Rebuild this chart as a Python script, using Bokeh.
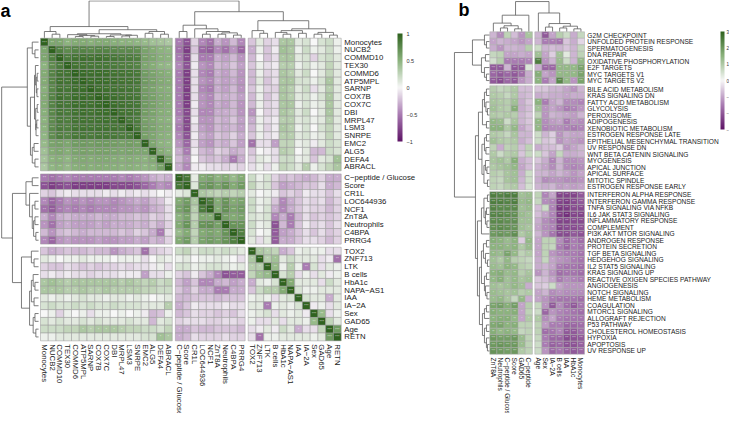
import math
from bokeh.plotting import figure
from bokeh.models import Range1d, ColorBar, LinearColorMapper, FixedTicker
from bokeh.layouts import row
from bokeh.embed import file_html
from bokeh.resources import INLINE
from bokeh.core.properties import value

# ---------------- DATA: panel a (correlation matrix, lower triangle) ----------------
a_labels = ["Monocytes", "NUCB2", "COMMD10", "TEX30", "COMMD6", "ATP5MPL", "SARNP", "COX7B",
            "COX7C", "DBI", "MRPL47", "LSM3", "SNRPE", "EMC2", "ALG5", "DEFA4", "ABRACL",
            "C\u2212peptide / Glucose", "Score", "CR1L", "LOC644936", "NCF1", "ZnT8A",
            "Neutrophils", "C4BPA", "PRRG4",
            "TOX2", "ZNF713", "LTK", "B cells", "HbA1c", "NAPA\u2212AS1", "IAA", "IA\u22122A",
            "Sex", "GAD65", "Age", "RETN"]
a_blocks = [17, 9, 12]

corr_lower = [
    [1],
    [.58, 1],
    [.58, .82, 1],
    [.50, .75, .85, 1],
    [.55, .80, .90, .90, 1],
    [.55, .80, .92, .90, .95, 1],
    [.52, .78, .90, .88, .93, .94, 1],
    [.55, .80, .92, .88, .94, .95, .93, 1],
    [.55, .80, .90, .88, .93, .94, .92, .95, 1],
    [.52, .78, .88, .86, .91, .93, .91, .93, .94, 1],
    [.50, .76, .86, .84, .90, .91, .90, .91, .92, .91, 1],
    [.50, .76, .85, .83, .89, .90, .89, .90, .90, .90, .88, 1],
    [.48, .74, .83, .80, .87, .88, .86, .88, .88, .87, .85, .86, 1],
    [.45, .60, .62, .58, .65, .66, .64, .66, .66, .64, .62, .64, .62, 1],
    [.40, .55, .58, .54, .60, .62, .60, .62, .62, .60, .58, .60, .58, .58, 1],
    [.38, .50, .52, .48, .55, .56, .54, .56, .56, .54, .52, .54, .52, .50, .55, 1],
    [.35, .48, .50, .46, .52, .54, .52, .54, .53, .52, .50, .52, .50, .48, .50, .62, 1],
    [-.50, -.55, -.50, -.45, -.50, -.50, -.50, -.50, -.50, -.50, -.45, -.50, -.45, -.40, -.30, -.25, -.30,
     1],
    [-.70, -.80, -.75, -.70, -.80, -.80, -.80, -.80, -.80, -.75, -.75, -.75, -.70, -.60, -.50, -.40, -.45,
     .88, 1],
    [-.15, -.20, -.10, -.05, -.10, -.10, -.10, -.10, -.05, -.10, -.05, -.10, -.05, -.10, -.05, .00, -.05,
     .08, .12, 1],
    [-.45, -.60, -.50, -.40, -.45, -.40, -.45, -.40, -.40, -.45, -.40, -.35, -.30, -.35, -.25, -.20, -.05,
     .55, .65, .35, 1],
    [-.55, -.65, -.50, -.45, -.50, -.45, -.50, -.45, -.45, -.45, -.40, -.40, -.35, -.40, -.30, -.25, -.10,
     .60, .70, .30, .85, 1],
    [-.30, -.45, -.30, -.25, -.30, -.30, -.30, -.25, -.30, -.30, -.25, -.25, -.20, -.25, -.15, -.20, -.10,
     .50, .60, .25, .55, .55, 1],
    [-.40, -.55, -.35, -.30, -.35, -.35, -.35, -.30, -.35, -.30, -.30, -.30, -.25, -.30, -.20, -.30, -.15,
     .55, .70, .30, .70, .72, .62, 1],
    [-.25, -.40, -.25, -.20, -.25, -.30, -.25, -.25, -.25, -.25, -.20, -.25, -.15, -.20, -.30, -.50, -.10,
     .45, .55, .25, .55, .60, .55, .70, 1],
    [-.45, -.60, -.40, -.35, -.40, -.40, -.40, -.35, -.40, -.40, -.35, -.35, -.30, -.35, -.25, -.30, -.15,
     .55, .65, .30, .60, .65, .60, .70, .82, 1],
    [-.20, -.30, -.25, -.20, -.25, -.25, -.20, -.25, -.25, -.40, -.30, -.25, -.20, -.55, -.20, -.15, -.10,
     .20, .25, .10, .20, .20, .15, .20, .15, .10,
     1],
    [.10, .05, .00, .05, .05, .10, .05, .05, .05, .00, .05, .05, .05, -.10, .00, .10, .05,
     .05, .10, .00, .05, .05, .10, .05, .00, -.10,
     .35, 1],
    [-.15, -.20, -.20, -.10, -.15, -.20, -.15, -.20, -.15, -.15, -.10, -.15, -.10, -.10, -.05, .05, -.10,
     .15, .15, .05, .10, .15, .15, .10, .05, .10,
     .30, .30, 1],
    [-.10, -.05, -.10, -.05, -.10, -.10, -.15, -.10, -.10, -.10, -.05, -.05, -.05, -.35, -.10, -.10, .05,
     -.15, -.20, -.05, -.20, -.30, -.45, -.70, -.65, -.65,
     .25, .40, .45, 1],
    [.35, .40, .35, .30, .35, .35, .35, .35, .35, .35, .30, .35, .30, .25, .30, .20, .25,
     -.25, -.35, -.20, -.45, -.45, -.30, -.25, -.35, -.30,
     -.30, .10, .05, .15, 1],
    [.35, .35, .35, .30, .30, .35, .30, .30, .35, .30, .30, .30, .30, .25, .25, .20, .20,
     -.20, -.30, -.15, -.30, -.30, -.50, -.50, -.30, -.30,
     -.20, .20, .30, .30, .55, 1],
    [.10, .05, .10, .05, .10, .15, .10, .10, .05, .10, .10, .05, .10, .05, .00, .05, .10,
     -.25, -.25, -.20, -.20, -.20, -.25, -.20, -.20, -.20,
     .05, .10, .05, -.10, .10, .15, 1],
    [.15, .20, .15, .15, .20, .15, .20, .15, .15, .20, .15, .15, .15, .10, .10, .10, .30,
     -.30, -.20, -.05, -.10, -.10, -.10, -.05, -.10, -.10,
     .10, .10, -.50, .05, .10, .05, .15, 1],
    [.00, .05, -.15, .05, .00, .05, -.10, .05, .05, .00, .05, .00, .05, -.05, -.25, -.20, .05,
     -.25, -.20, -.10, -.15, -.15, -.20, -.15, -.20, -.10,
     .05, .10, .15, -.10, .10, .05, .10, -.05, 1],
    [.15, .10, .15, .10, .10, .15, .10, .15, .10, .10, .10, .15, .10, .10, -.25, .10, .15,
     -.15, -.10, -.10, -.10, -.15, -.15, -.10, -.10, -.15,
     .05, -.10, -.10, .10, -.10, .10, .10, .05, .45, 1],
    [.20, .20, .20, .25, .25, .35, .30, .35, .35, .35, .30, .25, .25, .20, .20, .15, .25,
     -.30, -.30, -.20, -.25, -.25, -.20, -.20, -.20, -.25,
     -.10, -.05, .10, -.05, .20, .10, -.30, -.10, -.10, .25, 1],
    [.05, .05, .10, .10, .10, .10, .10, .10, .10, .10, .10, .10, .10, .15, .15, .40, .35,
     -.30, -.25, -.10, -.15, -.15, -.15, -.10, -.15, -.15,
     -.10, -.55, .05, .05, .10, .10, .10, .10, .05, .10, .65, 1],
]

# clustering tree of panel a (leaf = index, node = [left, right, merge height])
a_tree = [
    [[0, [1, 2, 4], 7],
     [[[3, [[4, 5, 1.5], [6, 7, 1.8], 2.5], 3.5], [[8, 9, 1.5], [[10, 11, 2], 12, 2.8], 3.2], 4.5],
      [[13, 14, 5], [15, 16, 4], 7], 9], 12.5],
    [[[17, 18, 7], [19, [[20, 21, 4], [[22, 23, 4], [24, 25, 3], 5.5], 7], 10], 14],
     [[26, [27, 28, 5], 8],
      [[[29, [30, 31, 4], 6], [32, 33, 5], 8], [[34, 35, 4], [36, 37, 3], 6], 10], 19], 29],
    41]

# ---------------- DATA: panel b (hallmark pathways x traits) ----------------
b_rows = ["G2M CHECKPOINT", "UNFOLDED PROTEIN RESPONSE", "SPERMATOGENESIS", "DNA REPAIR",
          "OXIDATIVE PHOSPHORYLATION", "E2F TARGETS", "MYC TARGETS V1", "MYC TARGETS V2",
          "BILE ACID METABOLISM", "KRAS SIGNALING DN", "FATTY ACID METABOLISM", "GLYCOLYSIS",
          "PEROXISOME", "ADIPOGENESIS", "XENOBIOTIC METABOLISM", "ESTROGEN RESPONSE LATE",
          "EPITHELIAL MESENCHYMAL TRANSITION", "UV RESPONSE DN", "WNT BETA CATENIN SIGNALING",
          "MYOGENESIS", "APICAL JUNCTION", "APICAL SURFACE", "MITOTIC SPINDLE",
          "ESTROGEN RESPONSE EARLY",
          "INTERFERON ALPHA RESPONSE", "INTERFERON GAMMA RESPONSE", "TNFA SIGNALING VIA NFKB",
          "IL6 JAK STAT3 SIGNALING", "INFLAMMATORY RESPONSE", "COMPLEMENT", "PI3K AKT MTOR SIGNALING",
          "ANDROGEN RESPONSE", "PROTEIN SECRETION", "TGF BETA SIGNALING", "HEDGEHOG SIGNALING",
          "IL2 STAT5 SIGNALING", "KRAS SIGNALING UP", "REACTIVE OXIGEN SPECIES PATHWAY",
          "ANGIOGENESIS", "NOTCH SIGNALING", "HEME METABOLISM", "COAGULATION", "MTORC1 SIGNALING",
          "ALLOGRAFT REJECTION", "P53 PATHWAY", "CHOLESTEROL HOMEOSTASIS", "HYPOXIA", "APOPTOSIS",
          "UV RESPONSE UP"]
b_row_blocks = [8, 16, 25]
b_cols = ["ZnT8A", "Neutrophils", "C\u2212peptide / Glucose", "Score", "GAD65", "C\u2212peptide",
          "Age", "Sex", "IA\u22122A", "B cells", "IAA", "HbA1c", "Monocytes"]
b_col_blocks = [6, 7]

b_values = [
    [-0.8, -1.3, 0.8, -0.7, -1.2, 1.1, -0.8, -2.0, -1.0, 0.9, 0.6, -0.9, 0.7],
    [-1.0, -0.8, -0.9, -1.0, -1.2, -1.0, -0.8, -1.5, -1.5, -1.6, -0.6, -0.9, -0.4],
    [-0.9, -1.2, -0.8, -0.8, -0.9, 0.9, 0.6, -0.8, -0.7, -0.8, -0.6, -0.8, 0.7],
    [0.7, 0.8, -1.0, -1.0, -0.9, -1.0, 1.2, -1.0, -0.5, 1.2, 0.3, -0.8, 0.8],
    [0.5, 0.9, -1.5, -1.5, -1.5, -1.4, 2.5, -1.2, -0.8, 1.3, 0.6, -0.8, 1.4],
    [-2.0, -2.0, -0.8, -2.0, -2.0, 0.4, -0.9, -1.8, -1.8, 1.4, 1.4, 1.4, 1.8],
    [-1.8, -2.0, -1.8, -2.0, -1.7, -0.9, 1.6, -1.0, -1.2, 1.4, 1.4, 1.4, 1.8],
    [-2.0, -2.2, -1.8, -2.0, -1.2, -0.9, 1.5, -1.5, -1.0, 2.3, 1.4, -1.2, 1.8],
    [0.9, 0.7, 0.8, 1.0, -0.7, -0.7, -0.6, -0.6, -0.8, -0.8, -1.0, -1.2, -0.8],
    [1.0, 0.9, 0.7, 1.0, -0.8, -0.7, -0.9, -0.8, -0.9, -0.9, -1.0, -0.9, -0.9],
    [1.1, 1.0, 0.9, 1.2, -0.9, -0.6, 1.5, -1.5, -1.0, -0.8, -1.3, -1.3, -1.4],
    [1.2, 1.0, 0.9, 1.6, -0.9, -0.7, 1.2, -1.2, -1.0, -1.2, -1.5, -1.4, -1.2],
    [1.0, 0.9, 1.0, 0.9, -0.8, -0.6, 0.8, -1.2, -0.8, -0.9, -1.0, -1.1, -0.8],
    [1.4, 1.3, 0.6, 1.1, -0.8, -0.6, 1.4, -1.3, -1.1, -1.0, -1.5, -1.2, -1.3],
    [1.5, 1.5, 1.0, 1.4, -1.0, -0.7, 1.4, -1.4, -1.3, -1.3, -1.4, -1.5, -1.4],
    [1.0, 0.9, 0.7, 1.1, -0.8, -0.8, 0.6, -0.8, -0.5, -1.2, -0.9, -1.0, -1.0],
    [1.2, 1.0, 0.9, 1.0, -0.9, -0.7, 0.6, -0.6, -0.5, -1.2, -1.0, -1.1, -1.2],
    [0.8, -0.9, 0.8, 0.9, -0.7, 0.8, -0.9, -0.7, -0.7, -0.5, -1.2, -1.0, -0.8],
    [1.0, 0.6, 0.9, 1.0, -0.6, 0.7, 0.6, -0.6, -1.0, 0.7, -0.9, -0.9, -0.8],
    [1.1, 1.2, 1.0, 1.6, -0.9, -0.7, -0.6, -0.9, -1.4, -0.8, -1.3, -1.3, -1.2],
    [1.0, 1.1, 1.2, 1.4, -1.0, -0.7, -0.8, -1.0, -1.3, -0.8, -1.3, -1.4, -1.3],
    [0.9, 0.8, 1.1, 1.2, -0.9, 0.6, -0.8, -0.8, -1.0, -0.8, -1.0, -1.2, -1.0],
    [0.8, 0.7, 1.1, 1.2, -0.8, 0.6, -0.9, -1.3, -1.2, -1.2, -1.3, -1.3, -1.2],
    [0.8, 0.7, 0.9, 1.0, -0.7, 0.5, -0.8, -0.9, -0.8, -1.1, -1.0, -1.1, -1.0],
    [2.5, 2.4, 2.5, 2.5, 1.2, 1.3, 0.8, -1.4, -1.0, -2.3, -2.3, -2.3, -2.0],
    [2.5, 2.5, 2.4, 2.5, 1.3, 1.4, 0.7, -1.3, -1.4, -2.3, -2.4, -2.2, -2.0],
    [2.4, 2.3, 2.3, 2.3, 1.2, 1.3, -0.7, 0.6, -1.4, -2.5, -2.4, -2.2, -2.2],
    [2.4, 2.4, 2.3, 2.2, 1.3, 1.2, -0.7, -1.0, -1.4, -2.4, -2.6, -2.3, -2.3],
    [2.3, 2.3, 2.2, 2.2, 1.2, 1.2, -0.9, -1.3, -1.5, -2.3, -2.3, -2.2, -2.2],
    [2.2, 2.3, 2.2, 2.1, 1.2, 1.1, -1.0, -1.3, -1.4, -2.3, -2.2, -2.2, -2.1],
    [2.0, 2.1, 2.0, 2.2, 1.0, 1.2, -0.8, -1.2, -1.6, -2.2, -2.2, -2.0, -2.1],
    [1.6, 1.5, 1.3, 1.5, -0.5, 1.4, -1.0, 0.8, 0.8, -1.3, -1.8, -1.5, -1.7],
    [1.5, 1.5, 1.4, 1.5, 1.0, 1.3, -1.0, 0.8, 0.7, -1.5, -1.8, -1.5, -1.6],
    [1.4, 1.3, 1.8, 1.4, 0.8, 1.0, -1.0, 0.8, -1.2, -1.4, -1.5, -1.5, -1.6],
    [1.2, 1.0, 1.4, 0.9, 0.8, 0.7, -0.9, 0.7, -1.0, -1.2, -1.3, -1.5, -1.6],
    [1.3, 1.2, 1.5, 1.4, 0.9, 0.8, -0.9, -0.8, -1.0, -1.5, -1.6, -1.6, -1.7],
    [1.5, 1.6, 1.3, 1.4, 0.9, 1.1, -1.2, -0.8, -1.2, -1.7, -1.6, -1.6, -1.7],
    [1.4, 1.6, 1.2, 1.4, 1.1, 1.2, -0.6, -0.7, -1.0, -1.5, -1.3, -1.4, -1.5],
    [1.2, 1.1, 1.2, 1.4, 1.2, -0.9, -0.6, -0.5, 0.6, -1.0, -1.2, -1.2, -1.2],
    [1.3, 1.2, 1.1, 1.2, 0.9, 1.0, -1.0, -0.8, -1.3, -1.2, -1.3, -1.3, -1.3],
    [1.3, 1.4, 1.1, 0.7, 1.4, -0.9, -1.0, -1.2, -1.5, -1.6, -1.6, -1.6, -1.7],
    [1.8, 1.9, 1.6, 1.9, -1.0, 0.9, 0.7, -1.2, -2.0, -1.3, -1.7, -2.0, -1.6],
    [1.6, 1.5, 1.5, 1.6, -1.0, 0.8, 0.6, -1.8, -1.2, -1.4, -1.5, -1.6, -1.7],
    [1.5, 1.6, 1.6, 1.4, -1.0, 1.0, 1.0, -1.3, -1.0, -1.5, -1.6, -1.6, -1.6],
    [1.7, 1.8, 1.5, 1.6, 0.8, 0.8, 0.8, -1.1, -1.5, -1.5, -1.8, -1.8, -1.7],
    [1.6, 1.4, 1.5, 1.4, 0.7, 0.8, 0.8, -1.7, -1.6, -1.4, -2.0, -2.0, -1.7],
    [2.0, 1.9, 1.9, 2.0, 1.3, 0.8, 0.7, -1.5, -1.8, -1.8, -2.2, -2.1, -2.0],
    [2.0, 2.1, 2.0, 2.0, 1.3, 0.8, 0.6, -1.5, -1.9, -1.8, -2.1, -2.1, -1.9],
    [2.1, 2.0, 1.9, 2.0, 1.0, 0.8, 0.6, -1.2, -1.8, -1.6, -1.9, -2.0, -1.8],
]

b_col_tree = [[[0, [[1, 2, 4], [3, 4, 3], 6.5], 9.5], 5, 18.5],
              [6, [[7, 8, 5], [[9, 10, 4], [11, 12, 3], 6], 9], 21], 34]
b_row_tree = [
    [[0, [1, 2, 3], 5], [[3, 4, 4], [5, [6, 7, 3], 5], 8], 17],
    [[[[[8, 9, 3], [10, [11, 12, 2], 3.5], 5], [13, 14, 3], 7],
      [[[15, 16, 3], [17, 18, 3.5], 5], [[19, [20, 21, 2.5], 4], [22, 23, 2], 5.5], 7.5], 11],
     [[[[24, 25, 2], [[26, 27, 3], [28, 29, 2.5], 4], 5.5], 30, 8],
      [[[[31, 32, 3], [33, [34, 35, 2], 4], 6], [[36, 37, 3], [38, [39, 40, 2.5], 4], 5], 8],
       [[[41, 42, 3], 43, 5], [[44, 45, 3], [46, [47, 48, 2], 3], 5], 7], 10], 12], 14],
    35]

# ---------------- helpers ----------------
PURPLE_GREEN = ["#5e1466", "#a97bb2", "#f7f7f7", "#8cb37e", "#2f621f"]


def ramp(stops, colors):
    rgb = [tuple(int(c[i:i + 2], 16) for i in (1, 3, 5)) for c in colors]

    def f(v):
        v = max(stops[0], min(stops[-1], v))
        for k in range(len(stops) - 1):
            if v <= stops[k + 1]:
                t = (v - stops[k]) / (stops[k + 1] - stops[k])
                c = [round(rgb[k][i] + t * (rgb[k + 1][i] - rgb[k][i])) for i in range(3)]
                return "#%02x%02x%02x" % tuple(c)
        return colors[-1]
    return f


def block_pos(sizes, gap):
    out = []
    for b, n in enumerate(sizes):
        start = sum(sizes[:b]) + b * gap
        out += [start + k + 0.5 for k in range(n)]
    return out


def dendro(tree, leaf_pos):
    segs = []

    def rec(node):
        if isinstance(node, int):
            return leaf_pos[node], 0.0
        l, r, h = node
        pl, hl = rec(l)
        pr, hr = rec(r)
        segs.append((pl, h, pr, h))
        segs.append((pl, hl, pl, h))
        segs.append((pr, hr, pr, h))
        return (pl + pr) / 2, h
    rec(tree)
    return segs


def stars_a(v):
    a = abs(v)
    return "***" if a >= 0.6 else "**" if a >= 0.45 else "*" if a >= 0.3 else ""


def stars_b(v):
    a = abs(v)
    return "***" if a >= 1.8 else "**" if a >= 1.4 else "*" if a >= 1.0 else ""


FONT = value("Liberation Sans")
LINE = "#5c5c5c"

# ================= panel a =================
W_A, W_B, H = 432, 297, 413
PXA_X, PXA_Y = 7.75, 7.8
OX_A, OY_A = 48 - 8, 45.7 - 8          # heatmap origin inside the figure (px)
GAP_A = 0.4
n = len(a_labels)
M = [[0.0] * n for _ in range(n)]
for i, r in enumerate(corr_lower):
    for j, v in enumerate(r):
        M[i][j] = v
        M[j][i] = v

pa = figure(width=W_A, height=H, output_backend="svg", toolbar_location=None,
            x_axis_type=None, y_axis_type=None, min_border=0,
            x_range=Range1d(-OX_A / PXA_X, (W_A - OX_A) / PXA_X),
            y_range=Range1d((H - OY_A) / PXA_Y, -OY_A / PXA_Y))
pa.outline_line_color = None
pa.grid.visible = False

cmap_a = ramp([-1, -0.5, 0, 0.5, 1], PURPLE_GREEN)
pos_a = block_pos(a_blocks, GAP_A)
xs, ys, cols, st = [], [], [], []
for i in range(n):
    for j in range(n):
        xs.append(pos_a[j]); ys.append(pos_a[i]); cols.append(cmap_a(M[i][j]))
        st.append(stars_a(M[i][j]))
pa.rect(x=xs, y=ys, width=1, height=1, fill_color=cols, line_color="#969696", line_width=0.5)
pa.text(x=xs, y=ys, text=st, text_font=FONT, text_font_size="4px", text_color="white",
        text_alpha=0.7, text_align="center", text_baseline="middle")

end_a = pos_a[-1] + 0.5
pa.text(x=[end_a + 0.4] * n, y=pos_a, text=a_labels, text_font=FONT, text_font_size="7.8px",
        text_color="#1a1a1a", text_align="left", text_baseline="middle")
pa.text(x=pos_a, y=[end_a + 0.45] * n, text=a_labels, text_font=FONT, text_font_size="7.8px",
        text_color="#1a1a1a", text_align="left", text_baseline="middle", angle=-math.pi / 2)

SC_A = 0.9
segs = dendro(a_tree, pos_a)
pa.segment(x0=[s[0] for s in segs], y0=[-s[1] * SC_A / PXA_Y - 0.05 for s in segs],
           x1=[s[2] for s in segs], y1=[-s[3] * SC_A / PXA_Y - 0.05 for s in segs],
           line_color=LINE, line_width=0.8)
pa.segment(x0=[-s[1] * SC_A / PXA_X - 0.25 for s in segs], y0=[s[0] for s in segs],
           x1=[-s[3] * SC_A / PXA_X - 0.25 for s in segs], y1=[s[2] for s in segs],
           line_color=LINE, line_width=0.8)

pa.text(x=[-OX_A / PXA_X], y=[(18 - 45.7) / PXA_Y], text=["a"], text_font=FONT,
        text_font_size="18px", text_font_style="bold", text_color="black",
        text_align="left", text_baseline="alphabetic")

pal_a = [cmap_a(-1 + 2 * k / 255) for k in range(256)]
cb_a = ColorBar(color_mapper=LinearColorMapper(palette=pal_a, low=-1, high=1),
                location=(397, 272), orientation="vertical", width=5, height=108,
                ticker=FixedTicker(ticks=[-1, -0.5, 0, 0.5, 1]),
                major_label_overrides={-1: "\u22121", -0.5: "\u22120.5", 0: "0", 0.5: "0.5", 1: "1"},
                major_label_text_font_size="5.5px", major_label_text_color="#333333",
                major_tick_line_color=None, minor_tick_line_color=None, bar_line_color=None,
                padding=0, label_standoff=4, background_fill_alpha=0, border_line_color=None)
pa.add_layout(cb_a)

# ================= panel b =================
PXB_X, PXB_Y = 7.1, 6.5
OX_B, OY_B = 497.3 - 440, 39.3 - 8
GAP_BX, GAP_BY = 0.34, 0.3
pb = figure(width=W_B, height=H, output_backend="svg", toolbar_location=None,
            x_axis_type=None, y_axis_type=None, min_border=0,
            x_range=Range1d(-OX_B / PXB_X, (W_B - OX_B) / PXB_X),
            y_range=Range1d((H - OY_B) / PXB_Y, -OY_B / PXB_Y))
pb.outline_line_color = None
pb.grid.visible = False

cmap_b = ramp([-3, -1.5, 0, 1.5, 3], PURPLE_GREEN)
px_b = block_pos(b_col_blocks, GAP_BX)
py_b = block_pos(b_row_blocks, GAP_BY)
xs, ys, cols, st = [], [], [], []
for i, r in enumerate(b_values):
    for j, v in enumerate(r):
        xs.append(px_b[j]); ys.append(py_b[i]); cols.append(cmap_b(v)); st.append(stars_b(v))
pb.rect(x=xs, y=ys, width=1, height=1, fill_color=cols, line_color="#a8a8a8", line_width=0.5)
pb.text(x=xs, y=ys, text=st, text_font=FONT, text_font_size="3px", text_color="white",
        text_alpha=0.75, text_align="center", text_baseline="middle")

end_bx = px_b[-1] + 0.5
end_by = py_b[-1] + 0.5
pb.text(x=[end_bx + 0.4] * len(b_rows), y=py_b, text=b_rows, text_font=FONT, text_font_size="6.6px",
        text_color="#1a1a1a", text_align="left", text_baseline="middle")
pb.text(x=px_b, y=[end_by + 0.5] * len(b_cols), text=b_cols, text_font=FONT, text_font_size="6.6px",
        text_color="#1a1a1a", text_align="left", text_baseline="middle", angle=-math.pi / 2)

SC_BC = 0.88
segs = dendro(b_col_tree, px_b)
pb.segment(x0=[s[0] for s in segs], y0=[-s[1] * SC_BC / PXB_Y - 0.05 for s in segs],
           x1=[s[2] for s in segs], y1=[-s[3] * SC_BC / PXB_Y - 0.05 for s in segs],
           line_color=LINE, line_width=0.8)
segs = dendro(b_row_tree, py_b)
pb.segment(x0=[-s[1] / PXB_X - 0.05 for s in segs], y0=[s[0] for s in segs],
           x1=[-s[3] / PXB_X - 0.05 for s in segs], y1=[s[2] for s in segs],
           line_color=LINE, line_width=0.8)

pb.text(x=[(466 - 497.3) / PXB_X], y=[(17 - 39.3) / PXB_Y], text=["b"], text_font=FONT,
        text_font_size="18px", text_font_style="bold", text_color="black",
        text_align="left", text_baseline="alphabetic")

pal_b = [cmap_b(-3 + 6 * k / 255) for k in range(256)]
cb_b = ColorBar(color_mapper=LinearColorMapper(palette=pal_b, low=-3, high=3),
                location=(288, 284), orientation="vertical", width=4, height=98,
                ticker=FixedTicker(ticks=[-3, -2, -1, 0, 1, 2, 3]),
                major_label_overrides={-3: "\u22123", -2: "\u22122", -1: "\u22121", 0: "0",
                                       1: "1", 2: "2", 3: "3"},
                major_label_text_font_size="4.5px", major_label_text_color="#333333",
                major_tick_line_color=None, minor_tick_line_color=None, bar_line_color=None,
                padding=0, label_standoff=2, background_fill_alpha=0, border_line_color=None)
pb.add_layout(cb_b)

layout = row(pa, pb)
open("out.html", "w").write(file_html(layout, INLINE))
